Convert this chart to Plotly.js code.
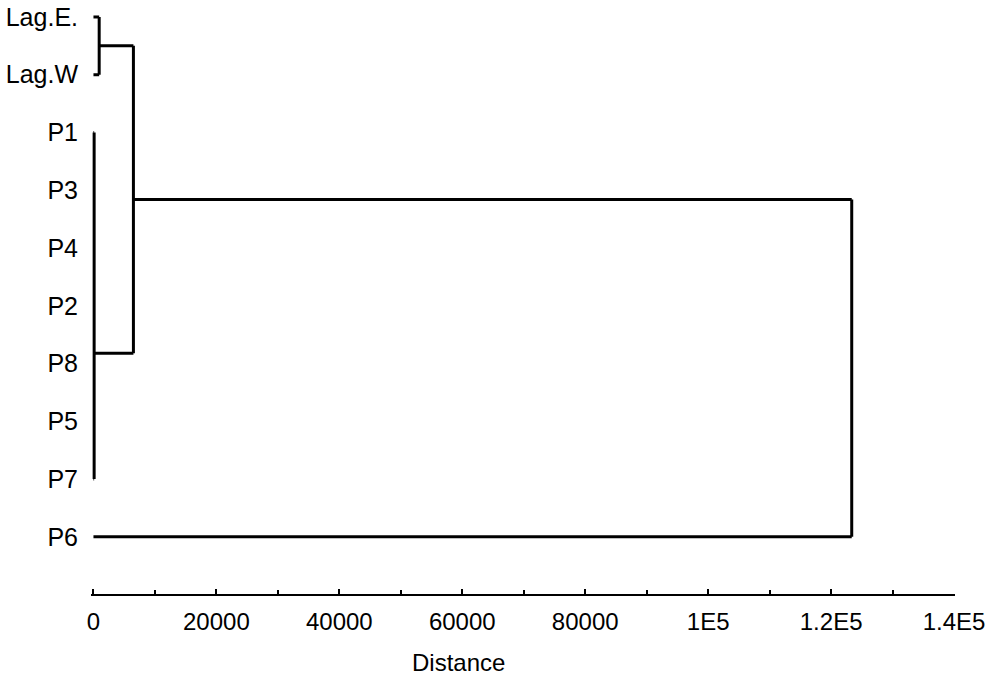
<!DOCTYPE html>
<html>
<head>
<meta charset="utf-8">
<script src="https://cdn.plot.ly/plotly-3.0.1.min.js"></script>
<style>
  html, body { margin: 0; padding: 0; background: #fff; }
  #chart { width: 986px; height: 679px; }
</style>
</head>
<body>
<div id="chart"></div>
<script>
// leaves, top to bottom
var leafLabels = ['Lag.E.', 'Lag.W', 'P1', 'P3', 'P4', 'P2', 'P8', 'P5', 'P7', 'P6'];

// cluster nodes
var nodeIds = ['A', 'B', 'C', 'R'];
var nodeLeft = ['Lag.E.', 'P1', 'A', 'C'];
var nodeRight = ['Lag.W', 'P7', 'B', 'P6'];
var nodeDist = [930, 110, 6500, 123350];
var nodeRow = [0.5, 5.82, 3.16, 6.58];

var tickVals = [0, 20000, 40000, 60000, 80000, 100000, 120000, 140000];
var tickText = ['0', '20000', '40000', '60000', '80000', '1E5', '1.2E5', '1.4E5'];

function rowOf(name) {
  var k = nodeIds.indexOf(name);
  if (k >= 0) return nodeRow[k];
  return leafLabels.indexOf(name);
}
function distOf(name) {
  var k = nodeIds.indexOf(name);
  if (k >= 0) return nodeDist[k];
  return 0;
}

var xs = [], ys = [];
for (var i = 0; i < nodeIds.length; i++) {
  var kids = [nodeLeft[i], nodeRight[i]];
  for (var j = 0; j < 2; j++) {
    xs.push(distOf(kids[j]), nodeDist[i], null);
    ys.push(rowOf(kids[j]), rowOf(kids[j]), null);
  }
  xs.push(nodeDist[i], nodeDist[i], null);
  ys.push(rowOf(nodeLeft[i]), rowOf(nodeRight[i]), null);
}

var txtFont = {family: 'Liberation Sans, Arial, sans-serif', size: 25, color: '#000'};

Plotly.newPlot('chart', [{
  x: xs, y: ys,
  mode: 'lines', type: 'scatter',
  line: {color: '#000', width: 3},
  hoverinfo: 'skip', showlegend: false
}], {
  width: 986, height: 679,
  margin: {l: 91, r: 31, t: 0, b: 85},
  paper_bgcolor: '#fff', plot_bgcolor: '#fff',
  xaxis: {
    range: [-400, 140150],
    tickvals: tickVals, ticktext: tickText,
    ticks: 'inside', ticklen: 5, tickwidth: 2, tickcolor: '#000',
    minor: {dtick: 10000, tick0: 0, ticks: 'inside', ticklen: 4, tickwidth: 2, tickcolor: '#000'},
    showline: true, linecolor: '#000', linewidth: 2,
    showgrid: false, zeroline: false,
    tickfont: {family: 'Liberation Sans, Arial, sans-serif', size: 24, color: '#000'},
    ticklabelstandoff: 5, ticklabeloverflow: 'allow'
  },
  yaxis: {
    range: [9.99, -0.294],
    tickvals: leafLabels.map(function (d, k) { return k; }),
    ticktext: leafLabels,
    ticks: '', showline: false, showgrid: false, zeroline: false,
    tickfont: txtFont, ticklabelstandoff: 12
  },
  annotations: [{
    text: 'Distance', xref: 'paper', yref: 'paper',
    x: 0.425, y: 0, yanchor: 'middle', yshift: -68, showarrow: false,
    font: {family: 'Liberation Sans, Arial, sans-serif', size: 24, color: '#000'}
  }]
}, {staticPlot: true});
</script>
</body>
</html>
